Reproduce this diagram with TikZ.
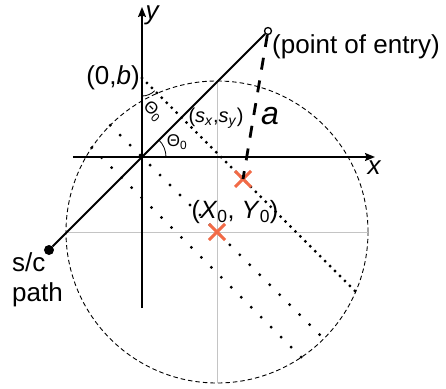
\documentclass[tikz,border=0pt]{standalone}
\usepackage{fontspec}
\setmainfont{Liberation Sans}
\usetikzlibrary{arrows.meta,calc,shapes.misc}
\definecolor{crossred}{HTML}{F26B47}
\definecolor{guidegrey}{HTML}{C4C4C4}
\tikzset{
  axisline/.style={-{Stealth[length=10pt,width=8pt,inset=1.5pt]}, line width=1.4pt},
  guideline/.style={draw=guidegrey, line width=0.9pt},
  rangecircle/.style={dash pattern=on 4.5pt off 3pt, line width=0.9pt},
  pathline/.style={line width=2pt},
  anglearc/.style={line width=0.8pt},
  denserow/.style={line width=3.2pt, line cap=round, dash pattern=on 0pt off 7pt},
  sparserow/.style={line width=3.2pt, line cap=round, dash pattern=on 0pt off 14.1pt},
  rangeline/.style={line width=2.8pt, dash pattern=on 12pt off 11pt},
  crossmark/.style={cross out, draw=crossred, line width=3pt, minimum size=13pt, inner sep=0pt},
  scdot/.style={circle, fill=black, inner sep=0pt, minimum size=10pt},
  entrydot/.style={circle, draw=black, fill=white, line width=1.3pt, inner sep=0pt, minimum size=7pt},
  lbl/.style={inner sep=0pt, font=\fontsize{26}{30}\selectfont},
  smalllbl/.style={inner sep=0pt, font=\fontsize{20}{24}\selectfont},
  anglelbl/.style={inner sep=0pt, font=\fontsize{17}{20}\selectfont}
}

\begin{document}
\begin{tikzpicture}[x=1pt,y=1pt]
  \useasboundingbox (-142,-231) rectangle (304,157);
  % points
  \coordinate (O) at (0,0);
  \coordinate (C) at (75,-75);
  \coordinate (B) at (0,79);
  \coordinate (Bend) at (214,-135);
  \coordinate (A1) at (-31.8,31.8);
  \coordinate (A2) at (181.8,-181.8);
  \coordinate (L1) at (-50.3,9.3);
  \coordinate (L2) at (159.3,-200.3);
  \coordinate (xstart) at (-69,0);
  \coordinate (xend) at (233,0);
  \coordinate (ystart) at (0,-151);
  \coordinate (yend) at (0,150);

  % circle with crosshair through its centre
  \draw[rangecircle] (C) circle[radius=151];
  \draw[guideline] ($(C)+(0,151)$) -- ($(C)+(0,-151)$);
  \draw[guideline] ($(C)+(-151,0)$) -- ($(C)+(151,0)$);

  % rows of dots
  \draw[denserow] (B) -- (Bend);
  \draw[sparserow] (A1) -- (A2);
  \draw[sparserow] (L1) -- (L2);

  % axes
  \draw[axisline] (xstart) -- (xend);
  \draw[axisline] (ystart) -- (yend);
  \node[lbl, font=\fontsize{26}{30}\selectfont\itshape] (xlbl) at (232,-11) {x};
  \node[lbl, font=\fontsize{26}{30}\selectfont\itshape] (ylbl) at (10,142) {y};

  % angles
  \draw[anglearc] ($(O)+(0:24)$) arc[start angle=0, end angle=45, radius=24];
  \draw[anglearc] ($(B)+(-90:18)$) arc[start angle=-90, end angle=-45, radius=18];
  \node[anglelbl] (th1) at (35,15) {Θ\textsubscript{0}};
  \node[anglelbl, rotate=-45] (th2) at (11,46) {Θ\textsubscript{0}};

  % spacecraft path
  \node[scdot] (sc) at (-93,-93) {};
  \node[entrydot] (entry) at (126,126) {};
  \draw[pathline] (sc) -- (entry);

  % crosses and distance
  \node[crossmark] (foot) at (101,-22) {};
  \node[crossmark] (centre) at (C) {};
  \draw[rangeline] (entry) -- (foot.center);

  % labels
  \node[lbl, anchor=east] (blbl) at (-2,79) {(0,\textit{b})};
  \node[smalllbl] (slbl) at (74,39) {(\textit{s}\textsubscript{\textit{x}},\textit{s}\textsubscript{\textit{y}})};
  \node[lbl, anchor=west] (entrylbl) at (130,110.5) {(point of entry)};
  \node[inner sep=0pt, font=\fontsize{32}{36}\selectfont\itshape] (albl) at (128,41) {a};
  \node[lbl, font=\fontsize{25}{30}\selectfont] (clbl) at (93,-55) {(\textit{X}\textsubscript{0}, \textit{Y}\textsubscript{0})};
  \node[lbl, anchor=west, align=left] (sclbl) at (-130,-123) {s/c\\path};
\end{tikzpicture}
\end{document}
